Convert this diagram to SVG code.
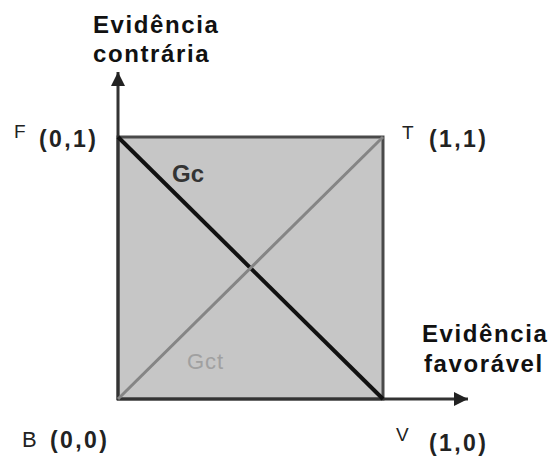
<svg xmlns="http://www.w3.org/2000/svg" width="554" height="462" viewBox="0 0 554 462">
<style>
.t{font-family:"Liberation Sans",Arial,sans-serif;fill:#111;}
.title{font-size:24px;font-weight:bold;letter-spacing:1.6px;}
.coord{font-size:23px;font-weight:bold;letter-spacing:2.4px;fill:#222;}
.pt{font-size:19px;fill:#222;}
.axis{stroke:#333;stroke-width:3;fill:none;}
</style>
<defs>
<marker id="ah" viewBox="0 0 10 10" refX="10" refY="5" markerWidth="14" markerHeight="14" markerUnits="userSpaceOnUse" orient="auto">
<path d="M0,0 L10,5 L0,10 Z" fill="#222"/>
</marker>
</defs>
<rect width="554" height="462" fill="#fff"/>
<g id="square">
<rect x="118" y="137" width="265" height="262" fill="#c6c6c6" stroke="#4a4a4a" stroke-width="3"/>
</g>
<g id="connectors">
<line class="axis" x1="118" y1="400" x2="118" y2="72" marker-end="url(#ah)"/>
<line class="axis" x1="117" y1="399" x2="468" y2="399" marker-end="url(#ah)"/>
<line x1="118" y1="137" x2="383" y2="399" stroke="#111" stroke-width="4"/>
<line x1="118" y1="399" x2="383" y2="137" stroke="#858585" stroke-width="3"/>
</g>
<g id="label-gc"><text class="t" x="172" y="182" font-size="24" font-weight="bold" style="fill:#333">Gc</text></g>
<g id="label-gct"><text class="t" x="187" y="369" font-size="22" letter-spacing="1" style="fill:#a0a0a0">Gct</text></g>
<g id="label-y">
<text class="t title" x="93" y="33">Evidência</text>
<text class="t title" x="93" y="62">contrária</text>
</g>
<g id="label-x">
<text class="t title" x="422" y="342">Evidência</text>
<text class="t title" x="424" y="372">favorável</text>
</g>
<g id="node-F"><text class="t pt" x="14" y="138">F</text><text class="t coord" x="39" y="147">(0,1)</text></g>
<g id="node-T"><text class="t pt" x="402" y="139">T</text><text class="t coord" x="429" y="147">(1,1)</text></g>
<g id="node-B"><text class="t" x="22" y="447" font-size="22" style="fill:#222">B</text><text class="t coord" x="50" y="448">(0,0)</text></g>
<g id="node-V"><text class="t pt" x="396" y="441">V</text><text class="t coord" x="429" y="451">(1,0)</text></g>
</svg>
